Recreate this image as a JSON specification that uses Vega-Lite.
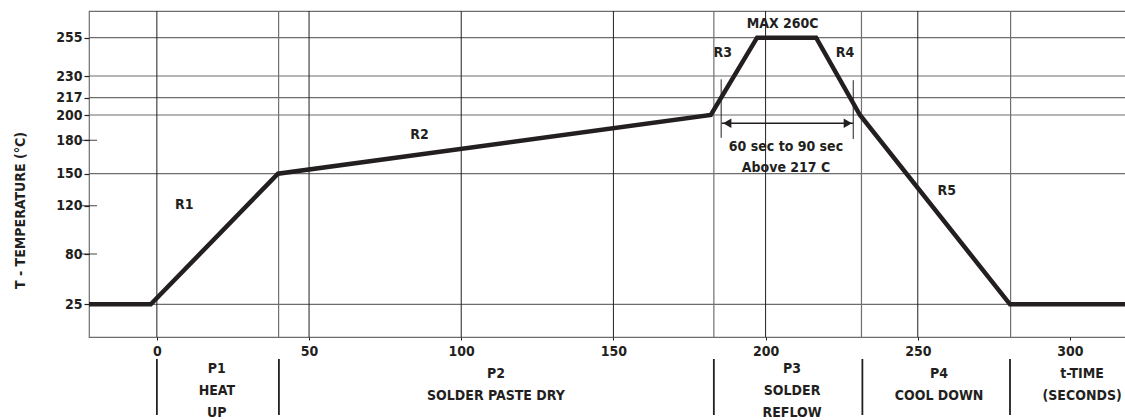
{
  "$schema": "https://vega.github.io/schema/vega-lite/v6.json",
  "background": "white",
  "padding": {"left": 12, "top": 9, "right": 0, "bottom": 0},
  "config": {"font": "DejaVu Sans Condensed, Roboto, sans-serif", "view": {"stroke": null}},
  "spacing": 22,
  "bounds": "flush",
  "datasets": {
    "profile": [
      {"t": -22.3, "temp": 25},
      {"t": -2, "temp": 25},
      {"t": 39.8, "temp": 150},
      {"t": 182, "temp": 200},
      {"t": 197.2, "temp": 255},
      {"t": 216.6, "temp": 255},
      {"t": 231, "temp": 200},
      {"t": 280.3, "temp": 25},
      {"t": 320, "temp": 25}
    ],
    "hgrid": [{"temp": 25}, {"temp": 150}, {"temp": 200}, {"temp": 217}, {"temp": 230}, {"temp": 255}],
    "innerTicks": [{"temp": 80}, {"temp": 120}, {"temp": 180}],
    "vgrid": [{"t": 0}, {"t": 50}, {"t": 100}, {"t": 150}, {"t": 200}, {"t": 250}],
    "phaseLines": [{"t": 40}, {"t": 183}, {"t": 231.5}, {"t": 280.5}],
    "arrow": [{"t": 185.6, "t2": 228.8, "temp": 193.4}],
    "brackets": [{"t": 185.4, "temp": 182, "temp2": 228}, {"t": 228.8, "temp": 181, "temp2": 227.5}],
    "heads": [{"t": 187.4, "temp": 193.4, "head": "left"}, {"t": 227.0, "temp": 193.4, "head": "right"}],
    "notes": [
      {"t": 205.6, "temp": 263.7, "label": "MAX 260C"},
      {"t": 185.9, "temp": 244.8, "label": "R3"},
      {"t": 226.1, "temp": 244.8, "label": "R4"},
      {"t": 9, "temp": 121, "label": "R1"},
      {"t": 86.3, "temp": 184.2, "label": "R2"},
      {"t": 259.5, "temp": 133.8, "label": "R5"},
      {"t": 206.7, "temp": 174.3, "label": "60 sec to 90 sec"},
      {"t": 206.7, "temp": 154.8, "label": "Above 217 C"}
    ],
    "phaseSeps": [{"t": 0}, {"t": 40.1}, {"t": 183}, {"t": 231.8}, {"t": 280.3}],
    "phaseLabels3": [
      {"t": 19.7, "label": ["P1", "HEAT", "UP"]},
      {"t": 208.7, "label": ["P3", "SOLDER", "REFLOW"]}
    ],
    "phaseLabels2": [
      {"t": 111.4, "label": ["P2", "SOLDER PASTE DRY"]},
      {"t": 257, "label": ["P4", "COOL DOWN"]},
      {"t": 304, "label": ["t-TIME", "(SECONDS)"]}
    ]
  },
  "vconcat": [
    {
      "width": 1040,
      "height": 326,
      "view": {"stroke": "#6d6d6d", "strokeWidth": 1.2},
      "layer": [
        {
          "data": {"name": "hgrid"},
          "mark": {"type": "rule", "color": "#6d6d6d", "strokeWidth": 1.2},
          "encoding": {
            "y": {"field": "temp", "type": "quantitative",
              "scale": {"domain": [0, 25, 80, 120, 150, 180, 200, 217, 230, 255, 272], "range": [326, 293.3, 243, 194.7, 162.7, 129.3, 104, 86.7, 65, 26.7, 0], "nice": false, "zero": false},
              "axis": {"values": [25, 80, 120, 150, 180, 200, 217, 230, 255], "grid": false, "domain": false, "tickSize": 5, "tickColor": "#231f20", "tickWidth": 1.2,
                "labelFontSize": 14, "labelFontWeight": "bold", "labelColor": "#231f20", "labelPadding": 2, "labelOverlap": false, "labelFlush": false,
                "title": "T - TEMPERATURE (°C)", "titleFontSize": 14, "titleFontWeight": "bold", "titleColor": "#231f20", "titleX": -62, "titleY": 199}}
          }
        },
        {
          "data": {"name": "vgrid"},
          "mark": {"type": "rule", "color": "#231f20", "strokeWidth": 1},
          "encoding": {
            "x": {"field": "t", "type": "quantitative",
              "scale": {"domain": [-22.3, 319.4], "nice": false, "zero": false},
              "axis": {"values": [0, 50, 100, 150, 200, 250, 300], "grid": false, "domain": false, "tickSize": 3, "tickColor": "#231f20",
                "labelFontSize": 14, "labelFontWeight": "bold", "labelColor": "#231f20", "labelPadding": 4, "labelOverlap": false, "labelFlush": false, "title": null}}
          }
        },
        {
          "data": {"name": "phaseLines"},
          "mark": {"type": "rule", "color": "#707070", "strokeWidth": 1.2},
          "encoding": {
            "x": {"field": "t", "type": "quantitative"}
          }
        },
        {
          "data": {"name": "innerTicks"},
          "mark": {"type": "tick", "orient": "horizontal", "color": "#231f20", "size": 16, "thickness": 1.2},
          "encoding": {
            "x": {"datum": -22.3, "type": "quantitative"},
            "y": {"field": "temp", "type": "quantitative"}
          }
        },
        {
          "data": {"name": "profile"},
          "mark": {"type": "line", "color": "#231f20", "strokeWidth": 4.5, "clip": true},
          "encoding": {
            "x": {"field": "t", "type": "quantitative"},
            "y": {"field": "temp", "type": "quantitative"}
          }
        },
        {
          "data": {"name": "arrow"},
          "mark": {"type": "rule", "color": "#231f20", "strokeWidth": 1.5},
          "encoding": {
            "x": {"field": "t", "type": "quantitative"},
            "x2": {"field": "t2"},
            "y": {"field": "temp", "type": "quantitative"}
          }
        },
        {
          "data": {"name": "brackets"},
          "mark": {"type": "rule", "color": "#231f20", "strokeWidth": 1},
          "encoding": {
            "x": {"field": "t", "type": "quantitative"},
            "y": {"field": "temp", "type": "quantitative"},
            "y2": {"field": "temp2"}
          }
        },
        {
          "data": {"name": "heads"},
          "mark": {"type": "point", "filled": true, "color": "#231f20", "opacity": 1, "size": 90},
          "encoding": {
            "x": {"field": "t", "type": "quantitative"},
            "y": {"field": "temp", "type": "quantitative"},
            "shape": {"field": "head", "type": "nominal", "scale": {"domain": ["left", "right"], "range": ["triangle-left", "triangle-right"]}, "legend": null}
          }
        },
        {
          "data": {"name": "notes"},
          "mark": {"type": "text", "fontSize": 14, "fontWeight": "bold", "color": "#231f20", "baseline": "middle", "align": "center"},
          "encoding": {
            "x": {"field": "t", "type": "quantitative"},
            "y": {"field": "temp", "type": "quantitative"},
            "text": {"field": "label"}
          }
        }
      ]
    },
    {
      "width": 1040,
      "height": 56,
      "view": {"stroke": null},
      "layer": [
        {
          "data": {"name": "phaseSeps"},
          "mark": {"type": "rule", "color": "#231f20", "strokeWidth": 1.8},
          "encoding": {
            "x": {"field": "t", "type": "quantitative", "scale": {"domain": [-22.3, 319.4], "nice": false, "zero": false}, "axis": null}
          }
        },
        {
          "data": {"name": "phaseLabels3"},
          "mark": {"type": "text", "fontSize": 14, "fontWeight": "bold", "color": "#231f20", "lineHeight": 22, "baseline": "middle", "align": "center", "dy": -18},
          "encoding": {
            "x": {"field": "t", "type": "quantitative", "axis": null},
            "text": {"field": "label"}
          }
        },
        {
          "data": {"name": "phaseLabels2"},
          "mark": {"type": "text", "fontSize": 14, "fontWeight": "bold", "color": "#231f20", "lineHeight": 22, "baseline": "middle", "align": "center", "dy": -13},
          "encoding": {
            "x": {"field": "t", "type": "quantitative", "axis": null},
            "text": {"field": "label"}
          }
        }
      ]
    }
  ]
}
